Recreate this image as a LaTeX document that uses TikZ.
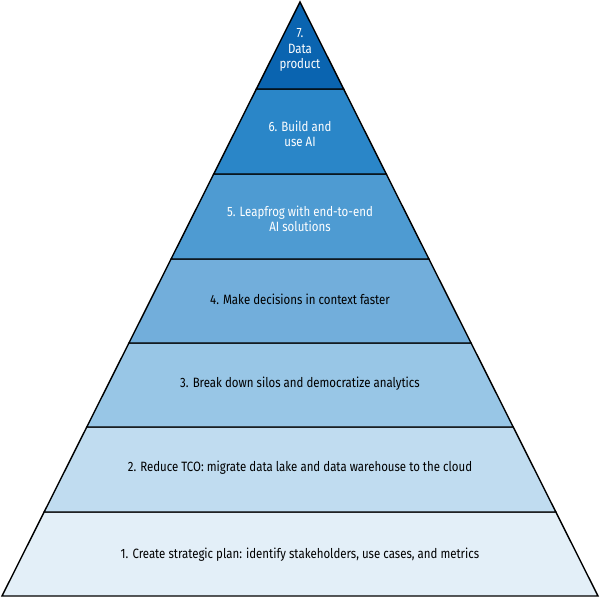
\documentclass[tikz,border=0pt]{standalone}
\usepackage{fontspec}
\setmainfont{Fira Sans}
\usetikzlibrary{positioning}
\definecolor{lay1}{HTML}{E3EFF8}
\definecolor{lay2}{HTML}{C0DCF0}
\definecolor{lay3}{HTML}{98C6E6}
\definecolor{lay4}{HTML}{72AEDB}
\definecolor{lay5}{HTML}{4E9BD2}
\definecolor{lay6}{HTML}{2A86C8}
\definecolor{lay7}{HTML}{0A64B0}
\tikzset{
    layer/.style={draw=black,line width=1.4pt,line join=miter},
    lbl/.style={align=center,font=\fontsize{13.5}{15.5}\selectfont\addfontfeatures{FakeStretch=0.85},inner sep=0pt},
}
\begin{document}
\begin{tikzpicture}[x=1pt,y=-1pt]
    \useasboundingbox (0,0) rectangle (600,598);
    \pgfmathsetmacro{\ax}{300}
    \pgfmathsetmacro{\ay}{2}
    \pgfmathsetmacro{\k}{298/594}
    % layers: bottom y, top y, colour
    \foreach \n/\yb/\yt/\c in {1/596/512/lay1,2/512/427/lay2,3/427/343/lay3,4/343/259/lay4,5/259/174/lay5,6/174/89/lay6}{
        \pgfmathsetmacro{\wb}{(\yb-\ay)*\k}
        \pgfmathsetmacro{\wt}{(\yt-\ay)*\k}
        \filldraw[layer,fill=\c] ({\ax-\wb},\yb) -- ({\ax+\wb},\yb) -- ({\ax+\wt},\yt) -- ({\ax-\wt},\yt) -- cycle;
    }
    \pgfmathsetmacro{\wt}{(89-\ay)*\k}
    \filldraw[layer,fill=lay7] (\ax,\ay) -- ({\ax+\wt},89) -- ({\ax-\wt},89) -- cycle;
    % labels
    \node[lbl,text=white] (l7) at (300,50) {7.\\Data\\product};
    \node[lbl,text=white] (l6) at (300,134) {6. Build and\\use AI};
    \node[lbl,text=white] (l5) at (300,219) {5. Leapfrog with end-to-end\\AI solutions};
    \node[lbl] (l4) at (300,299) {4. Make decisions in context faster};
    \node[lbl] (l3) at (300,384) {3. Break down silos and democratize analytics};
    \node[lbl] (l2) at (300,468) {2. Reduce TCO: migrate data lake and data warehouse to the cloud};
    \node[lbl] (l1) at (300,555) {1. Create strategic plan: identify stakeholders, use cases, and metrics};
\end{tikzpicture}
\end{document}
